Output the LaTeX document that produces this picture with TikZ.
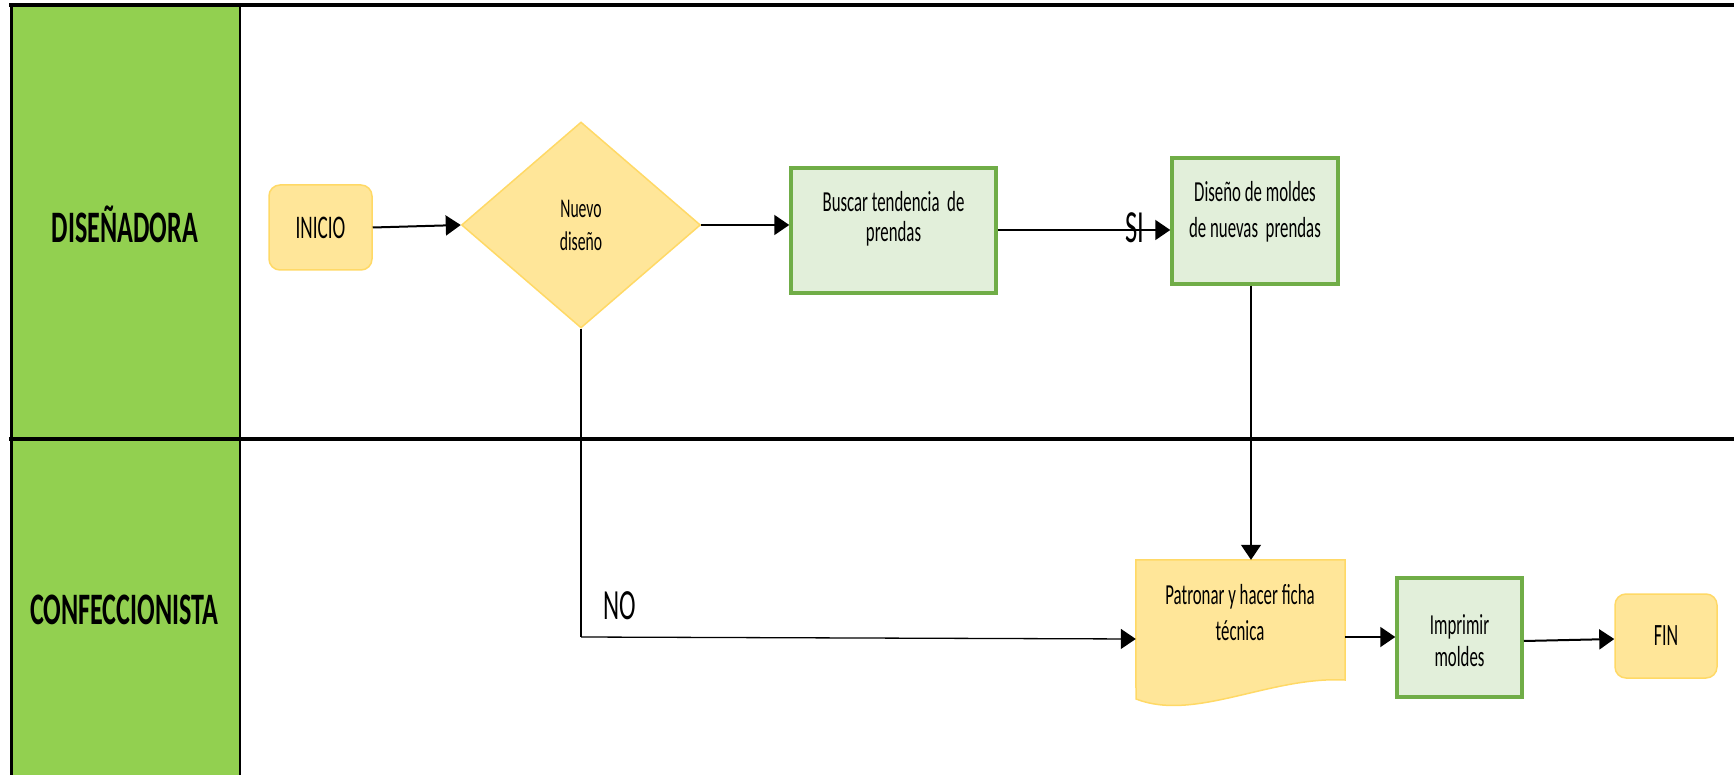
\documentclass[tikz,border=0pt]{standalone}
\usepackage{fontspec}
\setmainfont{Carlito}[FakeStretch=0.58]
\usetikzlibrary{shapes.geometric,arrows.meta}

\definecolor{lanegreen}{HTML}{92D050}
\definecolor{procfill}{HTML}{E2EFDA}
\definecolor{procline}{HTML}{70AD47}
\definecolor{termfill}{HTML}{FFE699}
\definecolor{termline}{HTML}{FFD966}

\tikzset{
  lanetitle/.style={font=\bfseries\fontsize{45}{48}\selectfont, inner sep=0pt},
  procbox/.style={draw=procline, line width=3.5pt, fill=procfill, inner sep=0pt},
  termbox/.style={draw=termline, line width=1.5pt, fill=termfill, rounded corners=11pt, inner sep=0pt},
  txt/.style={align=center, inner sep=0pt},
  flow/.style={line width=2pt, -{Triangle[length=15pt,width=20pt]}},
  thinflow/.style={line width=1.3pt, -{Triangle[length=15pt,width=20pt]}},
  thinline/.style={line width=1.3pt},
}

\begin{document}
\begin{tikzpicture}[x=1pt,y=-1pt]
\useasboundingbox (0,0) rectangle (1734,775);

% swimlanes
\fill[lanegreen] (11,5) rectangle (240,775);
\draw[line width=2pt] (240,5) -- (240,775);
\draw[line width=3pt] (11,5) -- (11,775);
\draw[line width=4.5pt] (9,5) -- (1734,5);
\draw[line width=4pt] (9,439) -- (1734,439);

\node[lanetitle] (lane1) at (125,224) {DISEÑADORA};
\node[lanetitle] (lane2) at (124,610) {CONFECCIONISTA};

% shapes
\node[termbox, minimum width=103pt, minimum height=85pt] (ini) at (320.5,227.5) {};
\node[txt, font=\fontsize{33}{34}\selectfont] (initxt) at (ini) {INICIO};

\node[diamond, draw=termline, line width=1.5pt, fill=termfill, inner sep=0pt,
      minimum width=239pt, minimum height=206pt] (dia) at (581,225) {};
\node[txt, font=\fontsize{27}{33}\selectfont] (diatxt) at (581,225) {Nuevo\\diseño};

\node[procbox, minimum width=205pt, minimum height=125pt] (busc) at (893.5,230.5) {};
\node[txt, font=\fontsize{29}{30}\selectfont] (busctxt) at (893.5,219) {Buscar tendencia~ de\\prendas};

\node[procbox, minimum width=166pt, minimum height=126pt] (dis) at (1255,221) {};
\node[txt, font=\fontsize{29}{36}\selectfont] (distxt) at (1255,212) {Diseño de moldes\\de nuevas~ prendas};

% document shape with a wavy lower edge
\node[inner sep=0pt, minimum width=209pt, minimum height=126pt] (pat) at (1240.5,623) {};
\draw[termline, line width=1.5pt, fill=termfill]
  (pat.north west) -- (pat.north east) -- (1345,680)
  .. controls (1270,676) and (1195,722) .. (1136,699) -- cycle;
\node[txt, font=\fontsize{29}{36}\selectfont] (pattxt) at (1240,613) {Patronar y hacer ficha\\técnica};

\node[procbox, minimum width=125pt, minimum height=119pt] (imp) at (1459.5,637.5) {};
\node[txt, font=\fontsize{29}{32}\selectfont] (imptxt) at (1459.5,641) {Imprimir\\moldes};

\node[termbox, minimum width=102pt, minimum height=84pt] (fin) at (1666,636) {};
\node[txt, font=\fontsize{31}{32}\selectfont] (fintxt) at (fin) {FIN};

% connectors
\draw[flow] (ini.east) -- (dia.west);
\draw[flow] (dia.east) -- (busc.west |- dia.east);
\coordinate (siend) at (dis.west |- 0,230);
\draw[flow] (busc.east |- siend) -- (siend);
\node[txt, font=\fontsize{46}{48}\selectfont] (si) at (1135,228) {SI};

\draw[thinflow] (dis.south -| 1251,0) -- (pat.north -| 1251,0);

\coordinate (nocorner) at (dia.south |- 0,637);
\draw[thinline] (dia.south) -- (nocorner);
\draw[thinflow] (nocorner) -- (pat.west |- 0,639);
\node[txt, font=\fontsize{43}{44}\selectfont] (no) at (620,606) {NO};

\draw[flow] (1345,637) -- (imp.west |- 0,637);
\draw[flow] (imp.east |- 0,641) -- (fin.west |- 0,639);

\end{tikzpicture}
\end{document}
